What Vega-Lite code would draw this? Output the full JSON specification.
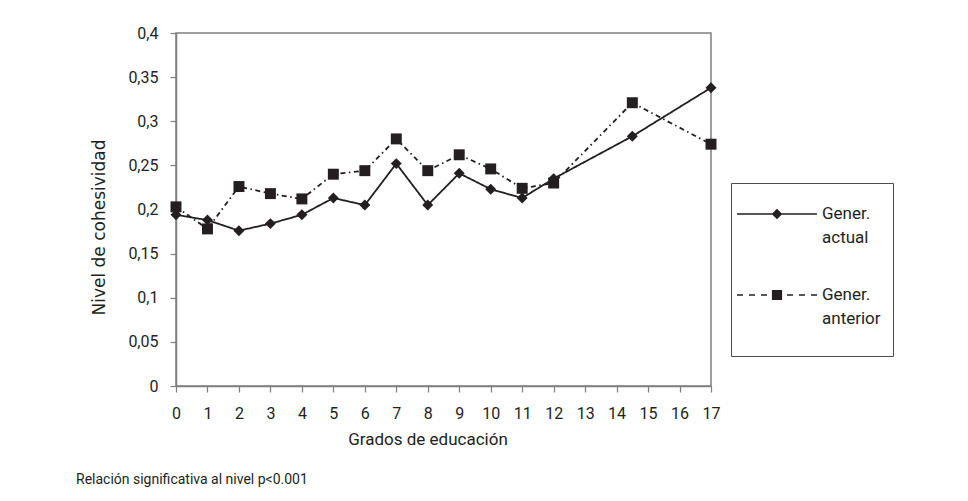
{
  "$schema": "https://vega.github.io/schema/vega-lite/v6.json",
  "width": 535,
  "height": 353,
  "autosize": "none",
  "padding": {"left": 176, "top": 33, "right": 257, "bottom": 115},
  "background": "white",
  "config": {
    "font": "Roboto",
    "view": {"stroke": "#7f7f7f", "strokeWidth": 1.5},
    "style": {"guide-label": {"lineHeight": 24}},
    "axis": {
      "grid": false,
      "domainColor": "#7f7f7f",
      "domainWidth": 1.5,
      "tickColor": "#7f7f7f",
      "tickWidth": 1.2,
      "tickSize": 6,
      "labelFont": "Roboto",
      "labelFontSize": 16,
      "labelColor": "#231f20",
      "titleFontWeight": "normal",
      "titleColor": "#231f20"
    }
  },
  "title": {
    "text": "Relación significativa al nivel p<0.001",
    "orient": "bottom",
    "anchor": "start",
    "frame": "group",
    "dx": -100,
    "offset": 26,
    "fontSize": 14,
    "fontWeight": "normal",
    "color": "#231f20",
    "font": "Roboto"
  },
  "data": {
    "values": [
      {"grado": 0, "serie": "Gener. anterior", "valor": 0.203},
      {"grado": 1, "serie": "Gener. anterior", "valor": 0.178},
      {"grado": 2, "serie": "Gener. anterior", "valor": 0.226},
      {"grado": 3, "serie": "Gener. anterior", "valor": 0.218},
      {"grado": 4, "serie": "Gener. anterior", "valor": 0.212},
      {"grado": 5, "serie": "Gener. anterior", "valor": 0.240},
      {"grado": 6, "serie": "Gener. anterior", "valor": 0.244},
      {"grado": 7, "serie": "Gener. anterior", "valor": 0.280},
      {"grado": 8, "serie": "Gener. anterior", "valor": 0.244},
      {"grado": 9, "serie": "Gener. anterior", "valor": 0.262},
      {"grado": 10, "serie": "Gener. anterior", "valor": 0.246},
      {"grado": 11, "serie": "Gener. anterior", "valor": 0.224},
      {"grado": 12, "serie": "Gener. anterior", "valor": 0.230},
      {"grado": 14.5, "serie": "Gener. anterior", "valor": 0.321},
      {"grado": 17, "serie": "Gener. anterior", "valor": 0.274},
      {"grado": 0, "serie": "Gener. actual", "valor": 0.194},
      {"grado": 1, "serie": "Gener. actual", "valor": 0.188},
      {"grado": 2, "serie": "Gener. actual", "valor": 0.176},
      {"grado": 3, "serie": "Gener. actual", "valor": 0.184},
      {"grado": 4, "serie": "Gener. actual", "valor": 0.194},
      {"grado": 5, "serie": "Gener. actual", "valor": 0.213},
      {"grado": 6, "serie": "Gener. actual", "valor": 0.205},
      {"grado": 7, "serie": "Gener. actual", "valor": 0.252},
      {"grado": 8, "serie": "Gener. actual", "valor": 0.205},
      {"grado": 9, "serie": "Gener. actual", "valor": 0.241},
      {"grado": 10, "serie": "Gener. actual", "valor": 0.223},
      {"grado": 11, "serie": "Gener. actual", "valor": 0.213},
      {"grado": 12, "serie": "Gener. actual", "valor": 0.235},
      {"grado": 14.5, "serie": "Gener. actual", "valor": 0.283},
      {"grado": 17, "serie": "Gener. actual", "valor": 0.338}
    ]
  },
  "encoding": {
    "x": {
      "field": "grado",
      "type": "quantitative",
      "scale": {"domain": [0, 17], "nice": false, "zero": false},
      "axis": {
        "values": [0,1,2,3,4,5,6,7,8,9,10,11,12,13,14,15,16,17],
        "format": "d",
        "labelBaseline": "alphabetic",
        "labelPadding": 26,
        "labelFlush": false,
        "labelOverlap": false,
        "title": "Grados de educación",
        "titleFont": "Roboto",
        "titleFontSize": 17,
        "titleX": 251.5,
        "titleY": 58,
        "titleBaseline": "alphabetic",
        "titleAlign": "center"
      }
    },
    "y": {
      "field": "valor",
      "type": "quantitative",
      "scale": {"domain": [0, 0.4], "nice": false},
      "axis": {
        "values": [0, 0.05, 0.1, 0.15, 0.2, 0.25, 0.3, 0.35, 0.4],
        "labelExpr": "replace(format(datum.value, '~g'), '.', ',')",
        "labelPadding": 12,
        "labelBaseline": "middle",
        "labelFlush": false,
        "title": "Nivel de cohesividad",
        "titleFont": "DejaVu Sans",
        "titleFontSize": 17,
        "titleX": -77,
        "titleY": 194,
        "titleAngle": -90,
        "titleBaseline": "middle",
        "titleAlign": "center"
      }
    }
  },
  "resolve": {"scale": {"shape": "independent"}},
  "layer": [
    {
      "mark": {"type": "line", "color": "#231f20", "strokeWidth": 1.8},
      "encoding": {
        "strokeDash": {
          "field": "serie",
          "type": "nominal",
          "scale": {"domain": ["Gener. anterior", "Gener. actual"], "range": [[5, 3.5, 1.5, 3.5], [1, 0]]},
          "legend": null
        }
      }
    },
    {
      "mark": {"type": "point", "filled": true, "color": "#231f20", "opacity": 1, "size": 120},
      "encoding": {
        "shape": {
          "field": "serie",
          "type": "nominal",
          "scale": {"domain": ["Gener. actual", "Gener. anterior"], "range": ["diamond", "square"]},
          "legend": null
        }
      }
    },
    {
      "mark": {"type": "point", "filled": false, "color": "#231f20", "opacity": 0, "size": 120},
      "encoding": {
        "shape": {
          "field": "serie",
          "type": "nominal",
          "scale": {
            "domain": ["Gener. actual", "Gener. anterior"],
            "range": [
              "M-2.222,0H2.222M0,-0.233L0.233,0L0,0.233L-0.233,0ZM0,-0.156L0.156,0L0,0.156L-0.156,0ZM0,-0.078L0.078,0L0,0.078L-0.078,0Z",
              "M0,2.5M-2.222,0H-1.889M-1.556,0H-1.222M-0.889,0H-0.556M0.556,0H0.889M1.222,0H1.556M1.889,0H2.222M-0.239,-0.239H0.239V0.239H-0.239ZM-0.161,-0.161H0.161V0.161H-0.161ZM-0.083,-0.083H0.083V0.083H-0.083ZM-0.011,-0.011H0.011V0.011H-0.011Z"
            ]
          },
          "legend": {
            "orient": "none",
            "legendX": 555,
            "legendY": 150,
            "title": null,
            "padding": 12,
            "strokeColor": "#4d4d4d",
            "fillColor": "white",
            "symbolSize": 1296,
            "symbolOffset": 15,
            "symbolOpacity": 1,
            "symbolStrokeColor": "#231f20",
            "symbolStrokeWidth": 1.6,
            "labelOffset": 26,
            "rowPadding": 30,
            "labelFont": "Roboto",
            "labelFontSize": 17,
            "labelColor": "#231f20",
            "labelBaseline": "middle",
            "labelExpr": "split(datum.label, ' ')",
            "labelLimit": 200
          }
        }
      }
    }
  ]
}
